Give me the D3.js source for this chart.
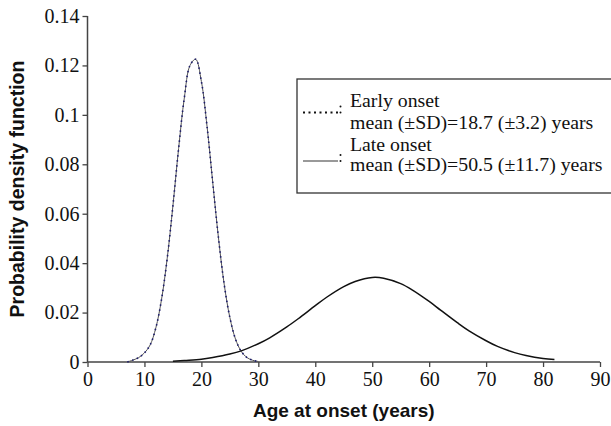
<!DOCTYPE html>
<html>
<head>
<meta charset="utf-8">
<script src="https://cdn.jsdelivr.net/npm/d3@7"></script>
<style>
  body { margin: 0; background: #fff; }
  .tick text { font-family: "Liberation Serif", "Times New Roman", serif; font-size: 20px; fill: #111; }
  .title { font-family: "Liberation Sans", Arial, sans-serif; font-weight: bold; font-size: 19px; fill: #111; }
  .leg { font-family: "Liberation Serif", "Times New Roman", serif; font-size: 19.8px; fill: #111; }
</style>
</head>
<body>
<div id="chart"></div>
<script>
// values
var earlyAge = [7, 8, 9, 10, 11, 12, 13, 14, 15, 16, 17, 18, 19, 20, 21, 22, 23, 24, 25, 26, 27, 28, 29, 30];
var earlyPdf = [0.0000, 0.0008, 0.0018, 0.0037, 0.0069, 0.0138, 0.0253, 0.0420, 0.0632, 0.0864, 0.1068, 0.1200, 0.1225, 0.1135, 0.0952, 0.0725, 0.0502, 0.0315, 0.0180, 0.0092, 0.0043, 0.0018, 0.0007, 0.0002];

var lateAge = [15, 17, 20, 22, 25, 27, 30, 32, 35, 37, 40, 42, 45, 47, 50, 52, 55, 57, 60, 62, 65, 67, 70, 72, 75, 77, 80, 82];
var latePdf = [0.0003, 0.0006, 0.0011, 0.0018, 0.0032, 0.0045, 0.0074, 0.0098, 0.0142, 0.0175, 0.0228, 0.0262, 0.0305, 0.0326, 0.0342, 0.0339, 0.0317, 0.0292, 0.0245, 0.0210, 0.0158, 0.0126, 0.0086, 0.0063, 0.0038, 0.0026, 0.0014, 0.0010];

var xTicks = [0, 10, 20, 30, 40, 50, 60, 70, 80, 90];
var yTicks = [0, 0.02, 0.04, 0.06, 0.08, 0.1, 0.12, 0.14];

var legendNames = ["Early onset", "Late onset"];
var legendStats = ["mean (\u00B1SD)=18.7 (\u00B13.2) years", "mean (\u00B1SD)=50.5 (\u00B111.7) years"];

var margin = { top: 16, right: 11, bottom: 64, left: 87.5 },
    width = 611 - margin.left - margin.right,
    height = 426 - margin.top - margin.bottom;

var root = d3.select("#chart")
    .append("svg")
    .attr("width", 611)
    .attr("height", 426);

var svg = root.append("g")
    .attr("transform", "translate(" + margin.left + "," + margin.top + ")");

var x = d3.scaleLinear().domain([0, 90]).range([0, width]);
var y = d3.scaleLinear().domain([0, 0.14]).range([height, 0]);

// axes
var xAxis = svg.append("g")
    .attr("transform", "translate(0," + height + ")")
    .call(d3.axisBottom(x).tickValues(xTicks).tickSize(5).tickPadding(5).tickFormat(d3.format("d")));

var yAxis = svg.append("g")
    .call(d3.axisLeft(y).tickValues(yTicks).tickSize(5).tickPadding(3).tickFormat(function (d) { return d === 0 ? "0" : String(+d.toFixed(2)); }));

svg.selectAll(".domain").attr("stroke", "#444").attr("stroke-width", 1.5);
svg.selectAll(".tick line").attr("stroke", "#444").attr("stroke-width", 1.3);
xAxis.selectAll(".domain").attr("d", "M0,0H" + width);
yAxis.selectAll(".domain").attr("d", "M0," + height + "V0");

var line = d3.line()
    .curve(d3.curveCatmullRom)
    .x(function (d) { return x(d[0]); })
    .y(function (d) { return y(d[1]); });

var early = d3.zip(earlyAge, earlyPdf);
var late = d3.zip(lateAge, latePdf);

// early onset: thin solid line with dotted overlay
svg.append("path")
    .datum(early)
    .attr("fill", "none")
    .attr("stroke", "#555")
    .attr("stroke-width", 1)
    .attr("d", line);
svg.append("path")
    .datum(early)
    .attr("fill", "none")
    .attr("stroke", "#1c1c6e")
    .attr("stroke-width", 1.6)
    .attr("stroke-dasharray", "1.5,3.5")
    .attr("d", line);

// late onset
svg.append("path")
    .datum(late)
    .attr("fill", "none")
    .attr("stroke", "#111")
    .attr("stroke-width", 1.5)
    .attr("d", line);

// axis titles
root.append("text")
    .attr("class", "title")
    .attr("x", margin.left + width / 2)
    .attr("y", 417)
    .attr("text-anchor", "middle")
    .text("Age at onset (years)");

root.append("text")
    .attr("class", "title")
    .attr("transform", "translate(24," + (margin.top + height / 2) + ") rotate(-90)")
    .attr("text-anchor", "middle")
    .style("font-size", "19.5px")
    .text("Probability density function");

// legend
var leg = root.append("g");
leg.append("rect")
    .attr("x", 297)
    .attr("y", 79)
    .attr("width", 330)
    .attr("height", 114)
    .attr("fill", "#fff")
    .attr("stroke", "#333")
    .attr("stroke-width", 1.3);

leg.append("line")
    .attr("x1", 303).attr("x2", 338)
    .attr("y1", 112.5).attr("y2", 112.5)
    .attr("stroke", "#111")
    .attr("stroke-width", 2)
    .attr("stroke-dasharray", "2,3.5");
leg.append("line")
    .attr("x1", 303).attr("x2", 338)
    .attr("y1", 161).attr("y2", 161)
    .attr("stroke", "#777")
    .attr("stroke-width", 1.5);

[[112.5], [161]].forEach(function (p) {
    leg.append("circle").attr("cx", 340.5).attr("cy", p[0]).attr("r", 1).attr("fill", "#111");
    leg.append("circle").attr("cx", 340.5).attr("cy", p[0] - 6).attr("r", 1).attr("fill", "#111");
});

var rowY = [107, 129, 151, 171];
[legendNames[0], legendStats[0], legendNames[1], legendStats[1]].forEach(function (t, i) {
    leg.append("text")
        .attr("class", "leg")
        .attr("x", 350)
        .attr("y", rowY[i])
        .text(t);
});
</script>
</body>
</html>
